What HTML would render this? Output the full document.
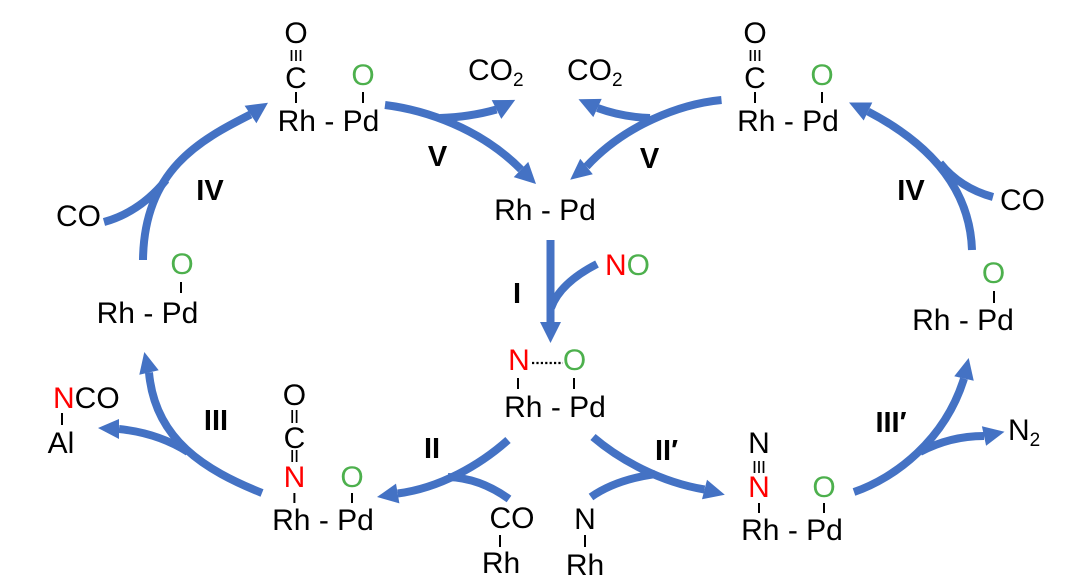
<!DOCTYPE html>
<html><head><meta charset="utf-8"><style>
html,body{margin:0;padding:0;background:#fff;}
svg{display:block;}
text{font-family:"Liberation Sans",Arial,sans-serif;font-size:30px;fill:#000;}
.b{font-weight:bold;font-size:29px;}
.r{fill:#FF0000;}
.g{fill:#4DB04D;}
</style></head><body>
<svg width="1080" height="583" viewBox="0 0 1080 583" xmlns="http://www.w3.org/2000/svg">
<rect width="1080" height="583" fill="#fff"/>
<g fill="none" stroke="#4472C4" stroke-width="8" stroke-linecap="butt">
<path d="M143,260 C144,170 200,140 250.5,114.5"/>
<path d="M104,222 Q140,212 166,180"/>
<path d="M385,105 C425,110 480,128 521,169.5"/>
<path d="M440,118 Q470,117 496.5,109.5"/>
<path d="M721.5,100 C680,104 625,125 586.5,166.5"/>
<path d="M650,118 Q622,117 597.5,108"/>
<path d="M972,250 C970,190 932,145 868,111.5"/>
<path d="M993,197 Q960,188 940,163"/>
<path d="M550.5,240 L550.5,323"/>
<path d="M597,264 Q560,283 551,308"/>
<path d="M593,437 C620,460 660,482 704.5,489.5"/>
<path d="M591,497 Q615,480 655,474"/>
<path d="M854,492 C895,478 945,440 964,378.5"/>
<path d="M920,452 Q950,436 984,436"/>
<path d="M262,493 C205,470 155,440 149,372.5"/>
<path d="M188,452 Q158,433 119,429"/>
<path d="M508,440 C480,465 440,488 397.7,493.5"/>
<path d="M509,499 Q480,478 448,477"/>
</g>
<g fill="#4472C4">
<polygon points="268,102.7 256.4,123.2 244.6,105.8"/>
<polygon points="536,184 513.75,177.1 528.25,161.9"/>
<polygon points="515.2,99.9 501.3,118.85 491.7,100.15"/>
<polygon points="570.2,179.8 592.8,174.2 580.2,158.8"/>
<polygon points="578.5,99.2 601.7,98.9 593.3,117.1"/>
<polygon points="849,102.5 872.3,102.5 863.7,120.5"/>
<polygon points="550.5,343 540,322 561,322"/>
<polygon points="724.8,494.7 702,499.2 707,479.8"/>
<polygon points="968.7,358 973.75,380.7 954.25,376.3"/>
<polygon points="1004.5,431.7 986.1,445.8 981.9,426.2"/>
<polygon points="144.3,352 158.7,370.25 139.3,374.75"/>
<polygon points="98,428 119,419 119,439"/>
<polygon points="377,497 399.4,503.35 396,483.65"/>
</g>
<g stroke="#000" stroke-width="2" fill="none">
<line x1="296" y1="92" x2="296" y2="103"/>
<line x1="363" y1="92" x2="363" y2="103"/>
<line x1="755" y1="92" x2="755" y2="103"/>
<line x1="822" y1="92" x2="822" y2="103"/>
<line x1="518" y1="378" x2="518" y2="389"/>
<line x1="574" y1="378" x2="574" y2="389"/>
<line x1="181" y1="282" x2="181" y2="293"/>
<line x1="994" y1="291" x2="994" y2="303"/>
<line x1="294.4" y1="493" x2="294.4" y2="503"/>
<line x1="352" y1="493" x2="352" y2="503"/>
<line x1="62" y1="413" x2="62" y2="425"/>
<line x1="500" y1="535" x2="500" y2="547"/>
<line x1="585" y1="535" x2="585" y2="547"/>
<line x1="759" y1="503" x2="759" y2="513"/>
<line x1="824" y1="503" x2="824" y2="513"/>
</g>
<g stroke="#000" stroke-width="1.7" fill="none">
<line x1="291.5" y1="50" x2="291.5" y2="61"/>
<line x1="296" y1="50" x2="296" y2="61"/>
<line x1="300.5" y1="50" x2="300.5" y2="61"/>
<line x1="750.5" y1="50" x2="750.5" y2="61"/>
<line x1="755" y1="50" x2="755" y2="61"/>
<line x1="759.5" y1="50" x2="759.5" y2="61"/>
<line x1="754.5" y1="461" x2="754.5" y2="473"/>
<line x1="759" y1="461" x2="759" y2="473"/>
<line x1="763.5" y1="461" x2="763.5" y2="473"/>
<line x1="292.2" y1="410" x2="292.2" y2="423"/>
<line x1="296.6" y1="410" x2="296.6" y2="423"/>
<line x1="292.2" y1="450" x2="292.2" y2="462"/>
<line x1="296.6" y1="450" x2="296.6" y2="462"/>
</g>
<line x1="532" y1="363" x2="563" y2="363" stroke="#000" stroke-width="2.2" stroke-dasharray="2.2 2.2"/>

<g text-anchor="middle">
<text x="296" y="43">O</text>
<text x="296" y="88">C</text>
<text x="328.5" y="131">Rh - Pd</text>
<text x="363" y="85" class="g">O</text>

<text x="755" y="43">O</text>
<text x="755" y="88">C</text>
<text x="788" y="131">Rh - Pd</text>
<text x="822" y="85" class="g">O</text>

<text x="545" y="220">Rh - Pd</text>
<text x="517" y="303" class="b">I</text>

<text x="519" y="370" class="r">N</text>
<text x="574.5" y="370" class="g">O</text>
<text x="555" y="417">Rh - Pd</text>

<text x="182" y="274" class="g">O</text>
<text x="147.5" y="323">Rh - Pd</text>

<text x="993.5" y="283" class="g">O</text>
<text x="963" y="330">Rh - Pd</text>

<text x="78.5" y="226">CO</text>
<text x="1022.5" y="210">CO</text>
<text x="210" y="200" class="b">IV</text>
<text x="911" y="200" class="b">IV</text>
<text x="437.5" y="166" class="b">V</text>
<text x="649.5" y="168" class="b">V</text>

<text x="294.4" y="405">O</text>
<text x="294.4" y="448">C</text>
<text x="294.4" y="487" class="r">N</text>
<text x="323" y="530">Rh - Pd</text>
<text x="352" y="487" class="g">O</text>

<text x="61" y="453">Al</text>
<text x="216" y="430" class="b">III</text>
<text x="432" y="458" class="b">II</text>
<text x="666.5" y="460" class="b">II′</text>
<text x="891" y="432" class="b">III′</text>

<text x="512" y="528">CO</text>
<text x="501" y="573">Rh</text>
<text x="585" y="529">N</text>
<text x="585" y="575">Rh</text>

<text x="759" y="453">N</text>
<text x="759" y="497" class="r">N</text>
<text x="792" y="540">Rh - Pd</text>
<text x="824" y="497" class="g">O</text>
</g>

<text x="468" y="80">CO<tspan font-size="19" dy="6">2</tspan></text>
<text x="567" y="80">CO<tspan font-size="19" dy="6">2</tspan></text>
<text x="605" y="275"><tspan class="r">N</tspan><tspan class="g">O</tspan></text>
<text x="53" y="408"><tspan class="r">N</tspan>CO</text>
<text x="1008" y="440">N<tspan font-size="19" dy="6">2</tspan></text>
</svg>
</body></html>
